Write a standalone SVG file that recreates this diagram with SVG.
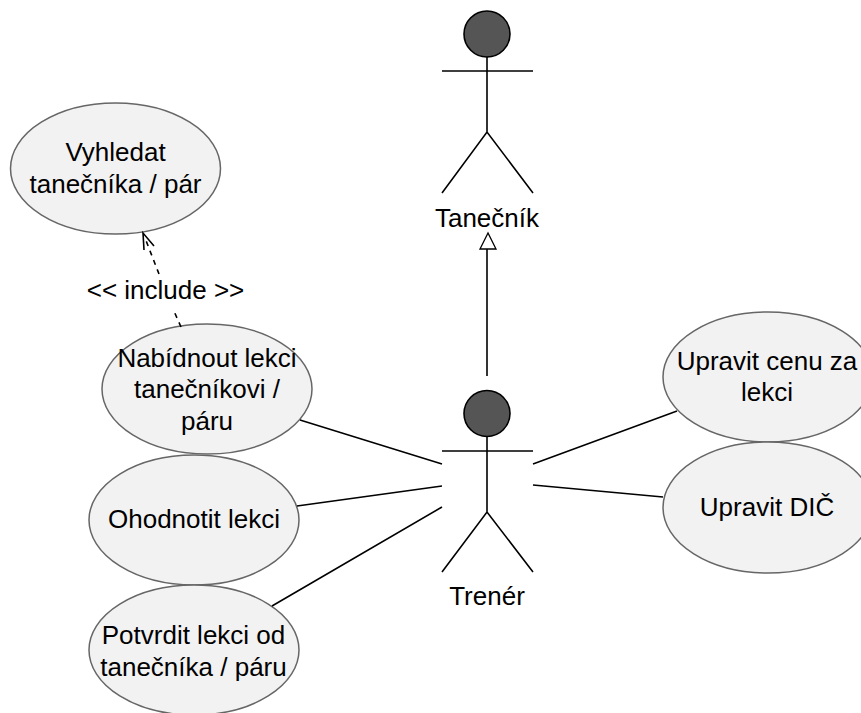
<svg xmlns="http://www.w3.org/2000/svg" width="861" height="713" viewBox="0 0 861 713">
<style>
.u{fill:#f2f2f2;stroke:#666;stroke-width:1.5}
.l{fill:none;stroke:#000;stroke-width:1.6}
.h{fill:#555;stroke:#000;stroke-width:1.6}
text{font-family:"Liberation Sans",Arial,sans-serif;font-size:26px;fill:#000;text-anchor:middle}
</style>
<rect width="861" height="713" fill="#fff"/>
<g id="uc-vyhledat"><ellipse class="u" cx="115.500" cy="168.500" rx="105" ry="65.500"/><text x="115.500" y="161">Vyhledat</text><text x="115.500" y="193">tanečníka / pár</text></g>
<g id="uc-nabidnout"><ellipse class="u" cx="207" cy="389" rx="105" ry="65"/><text x="207" y="367">Nabídnout lekci</text><text x="207" y="398">tanečníkovi /</text><text x="207" y="430">páru</text></g>
<g id="uc-ohodnotit"><ellipse class="u" cx="194" cy="520" rx="105" ry="65"/><text x="194" y="528">Ohodnotit lekci</text></g>
<g id="uc-potvrdit"><ellipse class="u" cx="194" cy="650" rx="105" ry="65"/><text x="193.500" y="644">Potvrdit lekci od</text><text x="193.500" y="676">tanečníka / páru</text></g>
<g id="uc-cena"><ellipse class="u" cx="768" cy="377" rx="105" ry="65"/><text x="767" y="370">Upravit cenu za</text><text x="767" y="401">lekci</text></g>
<g id="uc-dic"><ellipse class="u" cx="768" cy="507.500" rx="105" ry="65.500"/><text x="767" y="516">Upravit DIČ</text></g>
<g id="connectors">
<path class="l" d="M487 376V249"/>
<path d="M488 233L480 249H496Z" fill="#fff" stroke="#000" stroke-width="1.3"/>
<path class="l" stroke-width="1.4" stroke-dasharray="5 5" d="M181 327L173 309M159 274L145 238"/>
<path class="l" stroke-width="1.2" d="M144 250L143 233L154 246"/>
<path class="l" d="M300 420L442 464M297 506L442 486M272 606L442 507M533 464L677 411M533 485L663 497"/>
<text x="165.500" y="299">&lt;&lt; include &gt;&gt;</text>
</g>
<g id="actor-tanecnik"><circle class="h" cx="487" cy="34" r="23"/><path class="l" d="M487 57V132M442 71H533M442 193L487 132L533 193"/><text x="487" y="227">Tanečník</text></g>
<g id="actor-trener"><circle class="h" cx="487" cy="413.500" r="23"/><path class="l" d="M487 436.500V512M442 451H533M442 572L487 512L533 572"/><text x="487" y="605">Trenér</text></g>
</svg>
